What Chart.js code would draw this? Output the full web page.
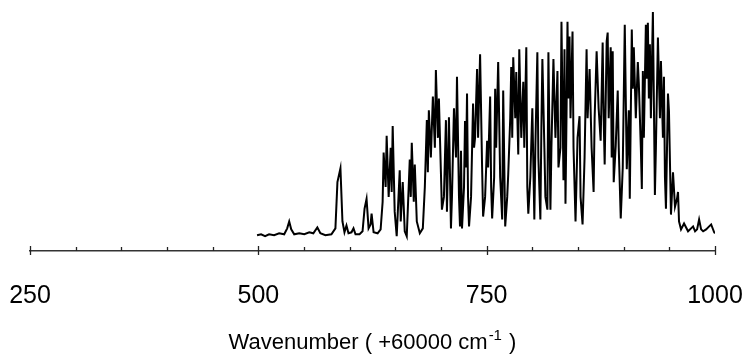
<!DOCTYPE html>
<html>
<head>
<meta charset="utf-8">
<script src="https://cdn.jsdelivr.net/npm/chart.js@4"></script>
<style>
  html, body { margin: 0; padding: 0; background: #fff; }
  #wrap { width: 748px; height: 356px; }
</style>
</head>
<body>
<div id="wrap"><canvas id="myChart" width="748" height="356"></canvas></div>
<script>
// wavenumber offset (cm-1 above 60000)
const wavenumber = [
  498.6, 503.0, 507.4, 511.8, 517.3, 522.8, 528.3, 531.6, 533.8, 536.0,
  539.3, 544.8, 550.3, 555.8, 560.2, 564.6, 567.9, 573.4, 580.0, 584.4,
  586.6, 589.9, 592.1, 594.3, 596.5, 598.7, 602.0, 604.2, 606.4, 610.8,
  614.1, 616.3, 618.5, 620.7, 622.9, 624.0, 626.2, 630.6, 633.9, 636.1,
  637.2, 639.4, 640.5, 642.7, 644.9, 646.0, 647.1, 649.3, 651.5, 654.8,
  655.9, 658.1, 660.3, 662.5, 665.8, 666.9, 668.0, 670.2, 671.3, 673.5,
  676.8, 680.1, 682.3, 684.5, 685.6, 686.7, 688.9, 691.1, 693.3, 694.4,
  696.6, 697.7, 699.9, 701.0, 703.2, 705.4, 706.5, 708.7, 710.9, 712.0,
  714.2, 716.4, 717.5, 719.7, 720.8, 721.9, 723.0, 725.2, 726.3, 727.4,
  728.5, 729.6, 730.7, 732.9, 735.1, 736.2, 737.3, 739.5, 740.6, 742.8,
  745.0, 746.1, 748.3, 750.5, 751.6, 753.8, 754.9, 756.0, 758.2, 759.3,
  760.4, 762.6, 764.8, 767.0, 768.1, 770.3, 772.5, 773.6, 775.8, 776.9,
  778.0, 779.1, 781.3, 782.4, 784.6, 785.7, 787.9, 790.1, 791.2, 793.4,
  794.5, 795.6, 797.8, 800.0, 802.2, 803.3, 805.5, 806.6, 808.8, 809.9,
  811.0, 813.2, 814.3, 816.5, 817.6, 819.8, 820.9, 823.1, 825.3, 827.5,
  828.6, 830.8, 831.9, 834.1, 835.2, 836.3, 837.4, 838.5, 839.6, 840.7,
  841.8, 844.0, 845.1, 847.3, 849.5, 851.7, 852.8, 855.0, 857.2, 859.4,
  860.5, 862.7, 864.9, 867.1, 868.2, 870.4, 872.6, 874.8, 877.0, 878.1,
  879.2, 881.4, 882.5, 883.6, 885.8, 886.9, 888.0, 889.1, 891.3, 893.5,
  894.6, 896.8, 899.0, 901.2, 903.4, 905.6, 906.7, 908.9, 910.0, 911.1,
  913.3, 915.5, 916.6, 918.8, 919.9, 921.0, 922.1, 924.3, 925.4, 926.5,
  927.6, 928.7, 929.8, 932.0, 934.2, 935.3, 937.5, 939.7, 940.8, 943.0,
  944.1, 945.2, 946.3, 948.5, 949.6, 951.8, 954.0, 956.2, 958.4, 959.5,
  960.6, 962.8, 966.1, 970.5, 973.8, 976.0, 978.2, 980.4, 982.6, 984.8,
  987.0, 990.3, 993.6, 995.8, 999.1, 1000.0
];

// signal (arbitrary units)
const intensity = [
  2, 3, 1, 3, 2, 4, 3, 9, 16, 8,
  3, 4, 3, 5, 4, 10, 4, 2, 3, 9,
  56, 70, 16, 5, 12, 4, 5, 9, 3, 3,
  6, 29, 39, 9, 13, 24, 5, 4, 8, 36,
  86, 51, 103, 41, 91, 46, 113, 26, 1, 68,
  16, 56, 6, 1, 79, 41, 96, 36, 74, 16,
  4, 9, 51, 119, 66, 129, 81, 143, 91, 170,
  101, 141, 66, 28, 41, 119, 26, 122, 9, 41,
  131, 81, 163, 41, 11, 88, 9, 51, 118, 71,
  146, 41, 11, 41, 136, 91, 101, 171, 101, 186,
  71, 21, 41, 98, 71, 143, 51, 19, 61, 151,
  91, 178, 61, 18, 149, 11, 41, 64, 121, 173,
  101, 183, 121, 168, 84, 191, 101, 158, 91, 193,
  51, 24, 61, 131, 18, 91, 188, 81, 18, 111,
  181, 91, 41, 28, 188, 28, 91, 181, 101, 169,
  71, 91, 219, 58, 191, 34, 121, 219, 141, 204,
  121, 209, 91, 16, 101, 123, 41, 13, 81, 191,
  121, 171, 91, 46, 121, 189, 131, 98, 198, 121,
  74, 199, 208, 121, 193, 81, 189, 56, 93, 149,
  91, 19, 71, 216, 69, 129, 39, 211, 151, 193,
  121, 178, 156, 91, 49, 169, 101, 216, 161, 218,
  141, 196, 121, 229, 43, 91, 203, 121, 179, 101,
  163, 61, 29, 146, 128, 23, 66, 31, 39, 46,
  16, 8, 14, 6, 9, 11, 6, 8, 18, 8,
  6, 8, 11, 13, 5, 4
];

const majorTicks = [250, 500, 750, 1000];

const points = wavenumber.map((w, i) => ({ x: w, y: intensity[i] }));

const FONT = "'Liberation Sans', Arial, Helvetica, sans-serif";

// tick marks (minor ones point up, major ones cross the axis)
// and the axis title with a raised "-1"
const extras = {
  id: "extras",
  afterDraw(chart) {
    const ctx = chart.ctx;
    const sx = chart.scales.x;
    ctx.save();
    ctx.strokeStyle = "#222";
    ctx.lineWidth = 1.3;
    sx.ticks.forEach((t) => {
      const px = Math.round(sx.getPixelForValue(t.value)) + 0.5;
      const major = majorTicks.includes(t.value);
      ctx.beginPath();
      ctx.moveTo(px, sx.top - (major ? 5 : 4));
      ctx.lineTo(px, sx.top + (major ? 4 : 0));
      ctx.stroke();
    });

    const main = "Wavenumber ( +60000 cm";
    const sup = "-1";
    const tail = " )";
    const big = "22px " + FONT;
    const small = "15px " + FONT;
    ctx.fillStyle = "#000";
    ctx.textBaseline = "alphabetic";
    ctx.textAlign = "left";
    ctx.font = big;
    const w1 = ctx.measureText(main).width;
    const w3 = ctx.measureText(tail).width;
    ctx.font = small;
    const w2 = ctx.measureText(sup).width + 2;
    const cx = (sx.left + sx.right) / 2;
    let x = cx - (w1 + w2 + w3) / 2;
    const base = sx.bottom + 34;
    ctx.font = big;
    ctx.fillText(main, x, base);
    x += w1 + 1;
    ctx.font = small;
    ctx.fillText(sup, x, base - 9);
    x += w2 - 1;
    ctx.font = big;
    ctx.fillText(tail, x, base);
    ctx.restore();
  },
};

const config = {
  type: "line",
  data: {
    datasets: [
      {
        data: points,
        borderColor: "#000",
        borderWidth: 2,
        pointRadius: 0,
        tension: 0,
        fill: false,
      },
    ],
  },
  options: {
    responsive: false,
    animation: false,
    layout: {
      padding: { left: 30, right: 33, top: 6, bottom: 41 },
    },
    plugins: {
      legend: { display: false },
      tooltip: { enabled: false },
    },
    scales: {
      x: {
        type: "linear",
        min: 250,
        max: 1000,
        border: { display: true, color: "#333", width: 1.5 },
        grid: {
          display: false,
          drawOnChartArea: false,
          drawTicks: true,
          tickLength: 26,
        },
        ticks: {
          stepSize: 50,
          autoSkip: false,
          maxRotation: 0,
          padding: 4,
          color: "#000",
          font: { family: FONT, size: 25 },
          callback: (v) => (majorTicks.includes(v) ? String(v) : ""),
        },
      },
      y: {
        display: false,
        min: -14,
        max: 235,
      },
    },
  },
  plugins: [extras],
};

const myChart = new Chart(document.getElementById("myChart").getContext("2d"), config);
</script>
</body>
</html>
